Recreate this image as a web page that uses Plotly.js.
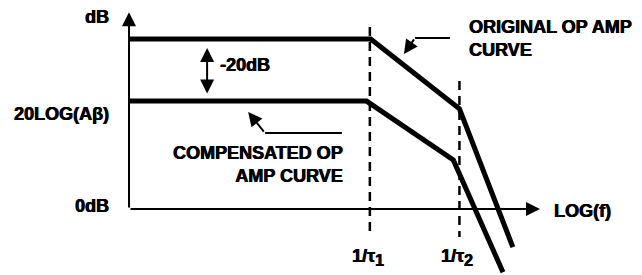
<!DOCTYPE html>
<html>
<head>
<meta charset="utf-8">
<script src="https://cdn.plot.ly/plotly-3.0.1.min.js"></script>
<style>html,body{margin:0;padding:0;background:#fff;}#chart{width:642px;height:275px;}</style>
</head>
<body>
<div id="chart"></div>
<script>
// log-frequency (arbitrary units) and gain (dB)
const origLogF = [0, 5.88, 8.04, 9.34];
const origDb   = [54.8, 54.8, 32.3, -12.3];
const compLogF = [0, 5.78, 7.89, 9.10];
const compDb   = [34.8, 34.8, 15.8, -20.4];
const tauLogF  = [5.86, 8.04];
const tauTopDb = [58.7, 41.3];
const tauBotDb = [-9.0, -9.0];
const tauLabels = ['1/τ<sub><span style="font-size:16px">1</span></sub>', '1/τ<sub><span style="font-size:16px">2</span></sub>'];
const gainLabels = ['dB', '20LOG(Aβ)', '0dB'];
const gainLabelDb = [61.9, 30.5, 1.0];

const FONT = {family: 'Arial', size: 18, color: '#000', weight: 700, shadow: '0.45px 0 0 #000, -0.3px 0 0 #000'};
const traces = [];
traces.push({x: origLogF, y: origDb, mode: 'lines', line: {color: '#000', width: 5}, cliponaxis: false});
traces.push({x: compLogF, y: compDb, mode: 'lines', line: {color: '#000', width: 5}, cliponaxis: false});
for (let i = 0; i < tauLogF.length; i++) {
  traces.push({x: [tauLogF[i], tauLogF[i]], y: [tauTopDb[i], tauBotDb[i]], mode: 'lines',
    line: {color: '#000', width: 2.5, dash: '9px,6px'}});
}
// pointer leaders
traces.push({x: [7.81, 6.96], y: [55.2, 55.2], mode: 'lines', line: {color: '#000', width: 2}});
traces.push({x: [5.18, 3.31], y: [24.5, 24.5], mode: 'lines', line: {color: '#000', width: 2}});

const ann = [];
function arrow(x, y, ax, ay, extra) {
  return Object.assign({x: x, y: y, ax: ax, ay: ay, xref: 'x', yref: 'y', axref: 'x', ayref: 'y',
    text: '', showarrow: true, arrowhead: 2, arrowsize: 1.4, arrowwidth: 2, arrowcolor: '#000', standoff: 0}, extra || {});
}
ann.push(arrow(0, 63.5, 0, 0));          // y axis
ann.push(arrow(10, 0, 0, 0));            // x axis
ann.push(arrow(1.90, 51.9, 1.90, 36.8, {arrowside: 'end+start', startarrowhead: 2, startarrowsize: 1.4}));
ann.push(arrow(6.69, 50.0, 6.96, 55.2));
ann.push(arrow(2.90, 31.3, 3.31, 24.5));

function label(text, x, y, xanchor, align) {
  return {text: text, x: x, y: y, xref: 'x', yref: 'y', xanchor: xanchor, yanchor: 'middle',
    align: align || 'left', showarrow: false, font: FONT, borderpad: 0};
}
for (let i = 0; i < gainLabels.length; i++) ann.push(label(gainLabels[i], -0.46, gainLabelDb[i], 'right', 'right'));
for (let i = 0; i < tauLabels.length; i++) ann.push(label(tauLabels[i], tauLogF[i] - 0.05, -15.6, 'center', 'center'));
ann.push(label('-20dB', 2.19, 46.3, 'left'));
ann.push(label('LOG(f)', 10.32, -0.6, 'left'));
ann.push(label('ORIGINAL OP AMP<br>CURVE', 8.25, 55.1, 'left', 'left'));
ann.push(label('COMPENSATED OP<br>AMP CURVE', 5.22, 14.4, 'right', 'right'));

const layout = {
  width: 642, height: 275,
  margin: {l: 0, r: 0, t: 0, b: 0},
  paper_bgcolor: '#fff', plot_bgcolor: '#fff',
  showlegend: false,
  font: {family: 'Arial', weight: 700},
  xaxis: {range: [-3.139, 12.482], visible: false, fixedrange: true},
  yaxis: {range: [-21.29, 67.42], visible: false, fixedrange: true},
  annotations: ann
};
Plotly.newPlot('chart', traces, layout, {displayModeBar: false, staticPlot: true});
</script>
</body>
</html>
